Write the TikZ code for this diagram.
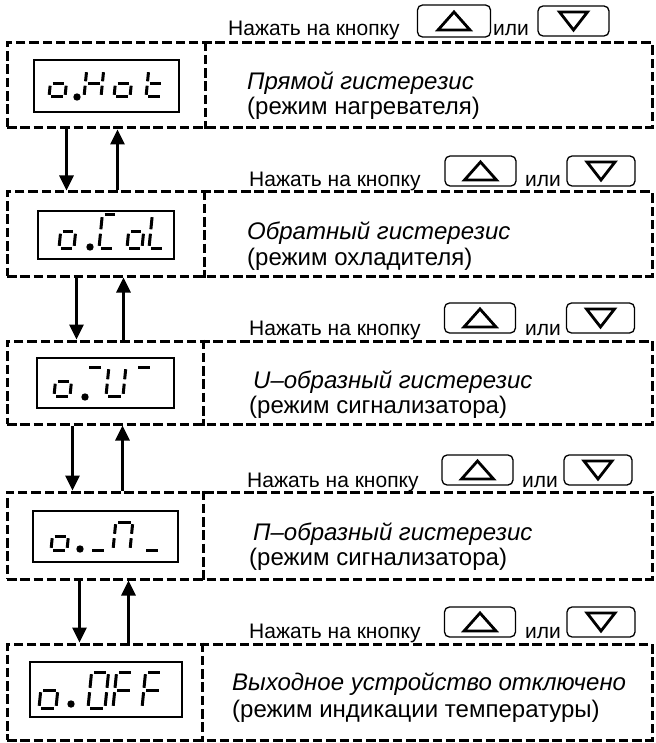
\documentclass[tikz,border=0pt]{standalone}
\usepackage{fontspec}
\setmainfont{Liberation Sans}
\usetikzlibrary{arrows.meta}

\tikzset{
  rowbox/.style={draw, line width=3pt, dash pattern=on 9.5pt off 3.8pt, inner sep=0pt, minimum width=645pt},
  divline/.style={line width=3pt, dash pattern=on 9.5pt off 3.8pt},
  display/.style={draw, line width=2.3pt, inner sep=0pt},
  segline/.style={line width=3pt, line cap=butt},
  arr/.style={line width=3pt, -{Triangle[length=15pt,width=14pt]}},
  btn/.style={draw, line width=1.3pt, rounded corners=5pt, minimum width=71pt, minimum height=30pt, inner sep=0pt},
  tri/.style={line width=2.8pt, line join=miter},
  hdr/.style={anchor=base west, inner sep=0pt, font=\fontsize{21}{24}\selectfont},
  desc/.style={anchor=base west, inner sep=0pt, font=\fontsize{24}{28}\selectfont},
  seg a/.style={insert path={(2.2,-\segH) -- (\segW-2.2,-\segH)}},
  seg b/.style={insert path={(\segW,-\segH+2.2) -- (\segW,-\segH/2-2.2)}},
  seg c/.style={insert path={(\segW,-\segH/2+2.2) -- (\segW,-2.2)}},
  seg d/.style={insert path={(2.2,0) -- (\segW-2.2,0)}},
  seg e/.style={insert path={(0,-\segH/2+2.2) -- (0,-2.2)}},
  seg f/.style={insert path={(0,-\segH+2.2) -- (0,-\segH/2-2.2)}},
  seg g/.style={insert path={(2.2,-\segH/2) -- (\segW-2.2,-\segH/2)}},
}

\newcommand\drawseg[1]{\draw[segline, seg #1];}
\newcommand\sevseg[5]{%
  \begin{scope}[shift={(#1,#2)}, xslant=0.1]
    \def\segW{#3}\def\segH{#4}%
    \foreach \s in {#5} {\expandafter\drawseg\expandafter{\s}}
  \end{scope}}
\newcommand\segdot[2]{\fill (#1,#2) circle[radius=3.7pt];}
\newcommand\uptri[1]{\draw[tri] ([shift={(-16,9)}]#1.center) -- ([shift={(16,9)}]#1.center) -- ([shift={(0,-9)}]#1.center) -- cycle;}
\newcommand\downtri[1]{\draw[tri] ([shift={(-14,-9)}]#1.center) -- ([shift={(14,-9)}]#1.center) -- ([shift={(0,9)}]#1.center) -- cycle;}

\begin{document}
\begin{tikzpicture}[x=1pt, y=-1pt]
\useasboundingbox (0,0) rectangle (655,743);

% ---------- row boxes ----------
\node[rowbox, minimum height=85pt] (box1) at (329.5,85.5) {};
\node[rowbox, minimum height=84pt] (box2) at (329.5,234) {};
\node[rowbox, minimum height=83pt] (box3) at (329.5,382.5) {};
\node[rowbox, minimum height=87pt] (box4) at (329.5,535.5) {};
\node[rowbox, minimum height=96pt] (box5) at (329.5,692) {};

\draw[divline] ([xshift=200pt]box1.north west) -- ([xshift=200pt]box1.south west);
\draw[divline] ([xshift=199pt]box2.north west) -- ([xshift=199pt]box2.south west);
\draw[divline] ([xshift=198pt]box3.north west) -- ([xshift=198pt]box3.south west);
\draw[divline] ([xshift=198pt]box4.north west) -- ([xshift=198pt]box4.south west);
\draw[divline] ([xshift=197pt]box5.north west) -- ([xshift=197pt]box5.south west);

% ---------- displays ----------
\node[display, minimum width=145pt, minimum height=52pt] (d1) at (106.5,86) {};
\node[display, minimum width=136pt, minimum height=48pt] (d2) at (106,235) {};
\node[display, minimum width=137pt, minimum height=50pt] (d3) at (105.5,383) {};
\node[display, minimum width=145pt, minimum height=51pt] (d4) at (105.5,536.5) {};
\node[display, minimum width=152pt, minimum height=55pt] (d5) at (106,689.5) {};

% o.Hot
\sevseg{49}{97}{16}{27}{c,d,e,g}
\segdot{77}{97}
\sevseg{84}{97}{17}{27}{b,c,e,f,g}
\sevseg{114}{97}{16}{27}{c,d,e,g}
\sevseg{146}{97}{16}{27}{d,e,f,g}
% o.CoL
\sevseg{59}{248}{15}{33}{c,d,e,g}
\segdot{90}{247}
\sevseg{99}{248}{15}{33}{a,d,e,f}
\sevseg{127}{248}{15}{33}{c,d,e,g}
\sevseg{149}{248}{15}{33}{d,e,f}
% o.-U-
\sevseg{54}{396}{16}{29}{c,d,e,g}
\segdot{85}{397}
\sevseg{84}{396}{16}{29}{a}
\sevseg{106}{396}{17}{29}{b,c,d,e,f}
\sevseg{133}{396}{16}{29}{a}
% o._П_
\sevseg{51}{550}{16}{28}{c,d,e,g}
\segdot{80}{549}
\sevseg{90}{550}{16}{28}{d}
\sevseg{113}{550}{17}{28}{a,b,c,e,f}
\sevseg{144}{550}{16}{28}{d}
% o.OFF
\sevseg{39}{708}{17}{36}{c,d,e,g}
\segdot{71}{704}
\sevseg{88}{708}{17}{36}{a,b,c,d,e,f}
\sevseg{113}{708}{17}{36}{a,e,f,g}
\sevseg{142}{708}{17}{36}{a,e,f,g}

% ---------- arrows ----------
\draw[arr] ([xshift=61pt]box1.south west) -- ([xshift=61pt]box2.north west);
\draw[arr] ([xshift=112pt]box2.north west) -- ([xshift=112pt]box1.south west);
\draw[arr] ([xshift=71pt]box2.south west) -- ([xshift=71pt]box3.north west);
\draw[arr] ([xshift=118pt]box3.north west) -- ([xshift=118pt]box2.south west);
\draw[arr] ([xshift=67pt]box3.south west) -- ([xshift=67pt]box4.north west);
\draw[arr] ([xshift=117pt]box4.north west) -- ([xshift=117pt]box3.south west);
\draw[arr] ([xshift=74pt]box4.south west) -- ([xshift=74pt]box5.north west);
\draw[arr] ([xshift=123pt]box5.north west) -- ([xshift=123pt]box4.south west);

% ---------- headers ----------
\node[hdr] (h1) at (228,36) {Нажать на кнопку};
\node[btn, minimum width=73pt, minimum height=32pt] (u1) at (454,21) {};
\node[hdr] (o1) at (493,36) {или};
\node[btn] (n1) at (573.5,21) {};
\uptri{u1}\downtri{n1}

\node[hdr] (h2) at (249,187) {Нажать на кнопку};
\node[btn] (u2) at (480.5,171) {};
\node[hdr] (o2) at (525,187) {или};
\node[btn, minimum width=68pt] (n2) at (601,171) {};
\uptri{u2}\downtri{n2}

\node[hdr] (h3) at (249,335) {Нажать на кнопку};
\node[btn] (u3) at (480,318) {};
\node[hdr] (o3) at (525,335) {или};
\node[btn, minimum width=68pt] (n3) at (600.5,318) {};
\uptri{u3}\downtri{n3}

\node[hdr] (h4) at (247,487) {Нажать на кнопку};
\node[btn] (u4) at (477.5,470) {};
\node[hdr] (o4) at (522,487) {или};
\node[btn, minimum width=68pt] (n4) at (598,470) {};
\uptri{u4}\downtri{n4}

\node[hdr] (h5) at (249,638) {Нажать на кнопку};
\node[btn] (u5) at (480,622) {};
\node[hdr] (o5) at (525,638) {или};
\node[btn, minimum width=68pt] (n5) at (601,622) {};
\uptri{u5}\downtri{n5}

% ---------- descriptions ----------
\node[desc] (t1a) at (247,90) {\itshape Прямой гистерезис};
\node[desc] (t1b) at (247,115) {(режим нагревателя)};
\node[desc] (t2a) at (247,240) {\itshape Обратный гистерезис};
\node[desc] (t2b) at (247,265) {(режим охладителя)};
\node[desc] (t3a) at (253,388) {\itshape U–образный гистерезис};
\node[desc] (t3b) at (249,413) {(режим сигнализатора)};
\node[desc] (t4a) at (253,540) {\itshape П–образный гистерезис};
\node[desc] (t4b) at (249,565) {(режим сигнализатора)};
\node[desc] (t5a) at (232,690) {\itshape Выходное устройство отключено};
\node[desc] (t5b) at (232,717) {(режим индикации температуры)};
\end{tikzpicture}
\end{document}
